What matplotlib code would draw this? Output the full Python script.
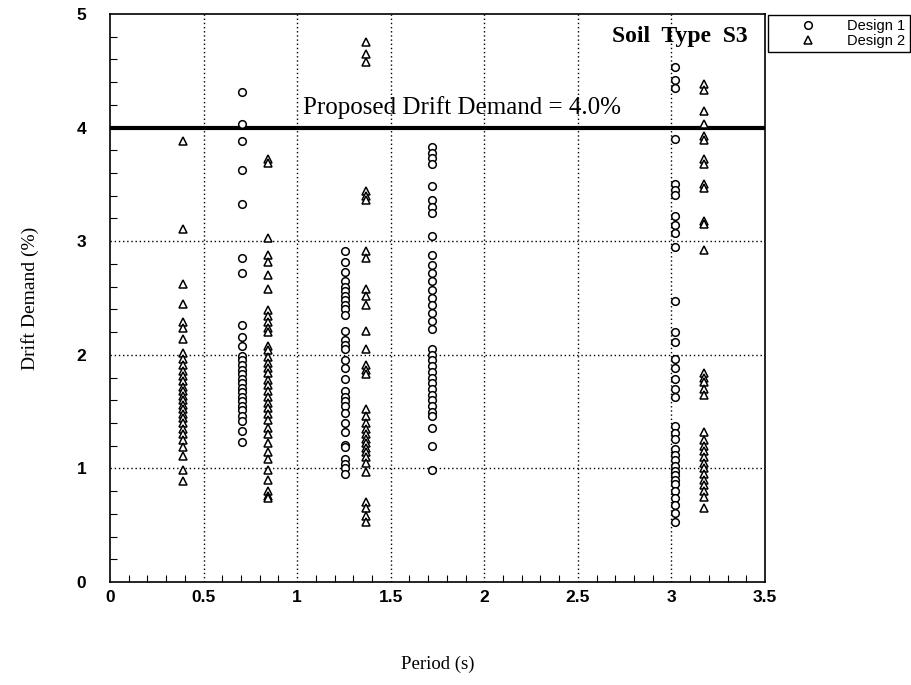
import numpy as np
import matplotlib
matplotlib.use("Agg")
import matplotlib.pyplot as plt
from matplotlib.ticker import MultipleLocator

# Design 1 (circles) columns: period -> drift demand values (%)
d1_periods = [0.705, 1.256, 1.721, 3.02]
d1_values = [
    [4.31, 4.03, 3.88, 3.63, 3.33, 2.85, 2.72, 2.26, 2.16, 2.08, 1.99, 1.95,
     1.91, 1.87, 1.83, 1.79, 1.75, 1.71, 1.67, 1.63, 1.59, 1.55, 1.51, 1.46,
     1.42, 1.33, 1.23],
    [2.91, 2.82, 2.73, 2.65, 2.60, 2.56, 2.52, 2.48, 2.44, 2.40, 2.35, 2.21,
     2.13, 2.09, 2.05, 1.95, 1.88, 1.79, 1.68, 1.63, 1.59, 1.55, 1.49, 1.40,
     1.32, 1.21, 1.19, 1.08, 1.04, 1.00, 0.95],
    [3.83, 3.78, 3.73, 3.68, 3.49, 3.36, 3.30, 3.25, 3.05, 2.88, 2.79, 2.72,
     2.65, 2.57, 2.50, 2.44, 2.37, 2.30, 2.23, 2.05, 2.00, 1.95, 1.90, 1.85,
     1.80, 1.75, 1.70, 1.65, 1.60, 1.55, 1.50, 1.46, 1.36, 1.20, 0.99],
    [4.53, 4.42, 4.35, 3.90, 3.50, 3.45, 3.41, 3.22, 3.14, 3.07, 2.95, 2.47,
     2.20, 2.11, 1.96, 1.88, 1.79, 1.70, 1.63, 1.37, 1.31, 1.26, 1.17, 1.12,
     1.07, 1.02, 0.98, 0.94, 0.90, 0.86, 0.80, 0.74, 0.68, 0.61, 0.53],
]

# Design 2 (triangles)
d2_periods = [0.39, 0.845, 1.368, 3.175]
d2_values = [
    [3.88, 3.11, 2.62, 2.45, 2.29, 2.24, 2.14, 2.02, 1.96, 1.91, 1.86, 1.81,
     1.77, 1.72, 1.68, 1.64, 1.60, 1.56, 1.52, 1.48, 1.44, 1.40, 1.35, 1.30,
     1.25, 1.19, 1.11, 0.99, 0.89],
    [3.72, 3.69, 3.03, 2.88, 2.82, 2.70, 2.58, 2.39, 2.34, 2.29, 2.24, 2.20,
     2.08, 2.04, 1.98, 1.93, 1.88, 1.84, 1.78, 1.73, 1.68, 1.63, 1.58, 1.53,
     1.48, 1.43, 1.36, 1.30, 1.22, 1.14, 1.08, 0.99, 0.90, 0.80, 0.76, 0.74],
    [4.75, 4.65, 4.58, 3.44, 3.40, 3.36, 2.91, 2.85, 2.58, 2.52, 2.44, 2.21,
     2.05, 1.91, 1.87, 1.83, 1.52, 1.46, 1.40, 1.35, 1.30, 1.26, 1.22, 1.18,
     1.14, 1.10, 1.05, 0.97, 0.70, 0.65, 0.58, 0.53],
    [4.38, 4.33, 4.15, 4.03, 3.93, 3.89, 3.72, 3.68, 3.50, 3.47, 3.18, 3.15,
     2.92, 1.84, 1.80, 1.76, 1.70, 1.65, 1.32, 1.25, 1.20, 1.15, 1.10, 1.05,
     1.00, 0.95, 0.90, 0.85, 0.80, 0.75, 0.65],
]

PROPOSED_DRIFT = 4.0
x_ticks = [0, 0.5, 1, 1.5, 2, 2.5, 3, 3.5]
x_tick_labels = ["0", "0.5", "1", "1.5", "2", "2.5", "3", "3.5"]
y_ticks = [0, 1, 2, 3, 4, 5]

SANS = "Liberation Sans"
SERIF = "Liberation Serif"

fig = plt.figure(figsize=(9.12, 6.85), dpi=100)
ax = fig.add_axes([110 / 912, 1 - 582 / 685, 655 / 912, 568 / 685])

# dotted grid
for gx in [0.5, 1, 1.5, 2, 2.5, 3]:
    ax.axvline(gx, color="black", linestyle=(0, (1, 2)), linewidth=1.0, zorder=1)
for gy in [1, 2, 3]:
    ax.axhline(gy, color="black", linestyle=(0, (1, 2)), linewidth=1.0, zorder=1)

# proposed limit
ax.axhline(PROPOSED_DRIFT, color="black", linewidth=3, zorder=2)

first = True
for p, vals in zip(d1_periods, d1_values):
    ax.plot([p] * len(vals), vals, linestyle="none", marker="o", markersize=5.5,
            markerfacecolor="white", markeredgecolor="black", markeredgewidth=1.1,
            label="Design 1" if first else None, zorder=3)
    first = False

first = True
for p, vals in zip(d2_periods, d2_values):
    ax.plot([p] * len(vals), vals, linestyle="none", marker="^", markersize=6,
            markerfacecolor="white", markeredgecolor="black", markeredgewidth=1.1,
            label="Design 2" if first else None, zorder=3)
    first = False

ax.set_xlim(0, 3.5)
ax.set_ylim(0, 5)
ax.set_xticks(x_ticks)
ax.set_xticklabels(x_tick_labels)
ax.set_yticks(y_ticks)
ax.xaxis.set_minor_locator(MultipleLocator(0.1))
ax.yaxis.set_minor_locator(MultipleLocator(0.2))
ax.tick_params(which="both", direction="in", top=False, right=False)
ax.tick_params(which="major", length=0, labelsize=12.5)
ax.tick_params(which="minor", length=5, width=0.8)
ax.tick_params(axis="x", pad=6)
ax.tick_params(axis="y", pad=17)
for lab in ax.get_xticklabels() + ax.get_yticklabels():
    lab.set_fontfamily(SANS)
    lab.set_fontweight("bold")
for sp in ax.spines.values():
    sp.set_linewidth(1.2)

ax.set_xlabel("Period (s)", fontfamily=SERIF, fontsize=13.5, labelpad=36)
ax.set_ylabel("Drift Demand (%)", fontfamily=SERIF, fontsize=14, labelpad=27)

ax.text(3.405, 4.75, "Soil  Type  S3", ha="right", va="baseline",
        fontfamily=SERIF, fontweight="bold", fontsize=17)
ax.text(1.03, 4.12, "Proposed Drift Demand = 4.0%", fontfamily=SERIF,
        fontsize=18, ha="left", va="baseline")

fig.legend(loc="upper left", bbox_to_anchor=(768 / 912, 1 - 15 / 685, 142 / 912, 0.0),
           mode="expand", prop={"family": SANS, "size": 10.5}, frameon=True,
           fancybox=False, edgecolor="black", framealpha=1, handlelength=4.9,
           handletextpad=0.2, labelspacing=0.05, borderpad=0.3, borderaxespad=0)

fig.savefig("out.png", dpi=100)
